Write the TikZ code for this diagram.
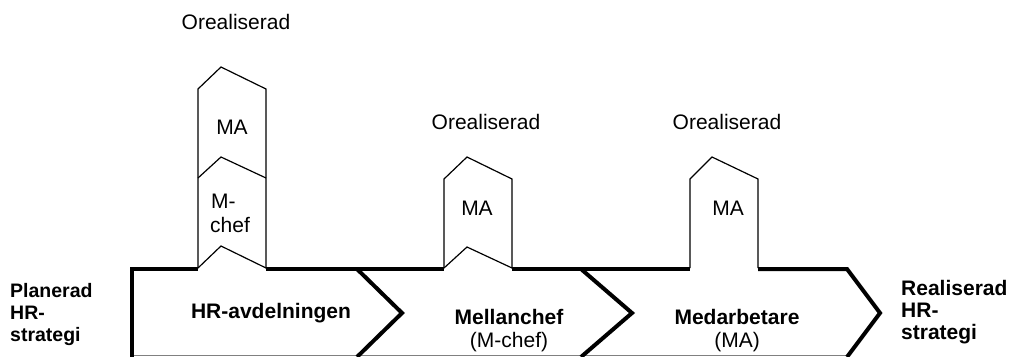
\documentclass[tikz,border=0pt]{standalone}
\usepackage{fontspec}
\setmainfont{Liberation Sans}
\usetikzlibrary{calc}

\begin{document}
\begin{tikzpicture}[x=1pt,y=-1pt,
    band/.style={line width=4pt, line join=miter},
    tab/.style={line width=1.2pt},
    txt/.style={inner sep=0pt, font=\fontsize{21}{23}\selectfont},
    btxt/.style={txt, font=\fontsize{21}{23}\selectfont\bfseries},
    stxt/.style={txt, font=\fontsize{19.5}{22}\selectfont\bfseries}]
    \useasboundingbox (0,0) rectangle (1009,356);
    % band
    \coordinate (BL) at (132,358);
    \coordinate (TL) at (132,269);
    \coordinate (C1) at (357,269);
    \coordinate (T1) at (402,313);
    \coordinate (D1) at (357,357);
    \coordinate (C2) at (581,269);
    \coordinate (T2) at (632,313);
    \coordinate (D2) at (581,357);
    \coordinate (C3) at (847,269);
    \coordinate (T3) at (880,313);
    \coordinate (D3) at (847,357);
    \draw [gray, line width=0.8pt] (132,355) -- (848,355);
    \draw [band] (BL) -- (TL) -- (198,269);
    \draw [band] (266,269) -- (444,269);
    \draw [band] (512,269) -- (690,269);
    \draw [band] (758,269) -- (C3) -- (T3) -- (D3);
    \draw [band] (C1) -- (T1) -- (D1);
    \draw [band] (C2) -- (T2) -- (D2);
    % tabs
    \draw [tab] (198,268) -- (198,89) -- (221,67) -- (266,89) -- (266,268);
    \draw [tab] (198,178) -- (221,157) -- (266,178);
    \draw [tab] (198,268) -- (221,246) -- (266,268);
    \draw [tab] (444,268) -- (444,179) -- (467,157) -- (512,179) -- (512,268);
    \draw [tab] (444,268) -- (467,247) -- (512,268);
    \draw [tab] (690,268) -- (690,179) -- (712,157) -- (758,179) -- (758,268);
    % labels
    \node [txt, anchor=base] (ore1) at (236,29) {Orealiserad};
    \node [txt, anchor=base] (ore2) at (486,129) {Orealiserad};
    \node [txt, anchor=base] (ore3) at (727,129) {Orealiserad};
    \node [txt, anchor=base] (ma1) at (232,134) {MA};
    \node [txt, anchor=base west] (mc1) at (211,208) {M-};
    \node [txt, anchor=base west] (mc2) at (210,232) {chef};
    \node [txt, anchor=base] (ma2) at (477,215) {MA};
    \node [txt, anchor=base] (ma3) at (728,215) {MA};
    \node [btxt, anchor=base] (hr) at (271,318) {HR-avdelningen};
    \node [btxt, anchor=base] (mch) at (509,324) {Mellanchef};
    \node [txt, anchor=base] (mchs) at (509,347) {(M-chef)};
    \node [btxt, anchor=base] (med) at (737,324) {Medarbetare};
    \node [txt, anchor=base] (meds) at (737,347) {(MA)};
    \node [stxt, anchor=base west] (pl1) at (10,297) {Planerad};
    \node [stxt, anchor=base west] (pl2) at (10,319) {HR-};
    \node [stxt, anchor=base west] (pl3) at (10,341) {strategi};
    \node [btxt, anchor=base west] (re1) at (901,295) {Realiserad};
    \node [btxt, anchor=base west] (re2) at (901,317) {HR-};
    \node [btxt, anchor=base west] (re3) at (901,339) {strategi};
\end{tikzpicture}
\end{document}
